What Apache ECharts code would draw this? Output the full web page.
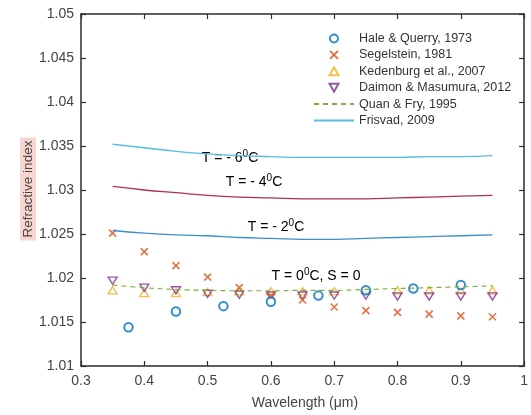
<!DOCTYPE html>
<html>
<head>
<meta charset="utf-8">
<script src="https://cdn.jsdelivr.net/npm/echarts@6/dist/echarts.min.js"></script>
<style>html,body{margin:0;padding:0;background:#fff}#c{width:531px;height:415px}</style>
</head>
<body>
<div id="c"></div>
<script>
const wl = [0.35,0.4,0.45,0.5,0.55,0.6,0.65,0.7,0.75,0.8,0.85,0.9,0.95];
const wlHale = [0.375,0.45,0.525,0.6,0.675,0.75,0.825,0.9];
const hale = [1.0144,1.0162,1.0168,1.0173,1.0180,1.0186,1.0188,1.0192];
const segelstein = [1.0251,1.0230,1.0214,1.0201,1.0189,1.0180,1.0175,1.0167,1.0163,1.0161,1.0159,1.0157,1.0156];
const kedenburg = [1.0186,1.0183,1.0183,1.0184,1.0185,1.0185,1.0185,1.0185,1.0186,1.0186,1.0186,1.0186,1.0186];
const daimon = [1.0197,1.0189,1.0186,1.0182,1.0181,1.0180,1.0180,1.0180,1.0180,1.0179,1.0179,1.0179,1.0179];
const quanFry = [1.0192,1.0189,1.0187,1.0186,1.01855,1.01855,1.0186,1.0186,1.0187,1.0188,1.0189,1.0190,1.0191];
const frisvadM6 = [1.0352,1.0348,1.0344,1.0341,1.0339,1.0338,1.0337,1.0337,1.0337,1.0337,1.0338,1.0338,1.0339];
const frisvadM4 = [1.0304,1.0300,1.0297,1.0294,1.0292,1.0291,1.0290,1.0290,1.0290,1.0291,1.0292,1.0293,1.0294];
const frisvadM2 = [1.0254,1.0251,1.0249,1.0248,1.0246,1.0245,1.0244,1.0244,1.0245,1.0246,1.0247,1.0248,1.0249];
const names = ['Hale & Querry, 1973','Segelstein, 1981','Kedenburg et al., 2007','Daimon & Masumura, 2012','Quan & Fry, 1995','Frisvad, 2009'];
const curveLabels = ['T = - 6','T = - 4','T = - 2','T = 0'];

const pair = (xs, ys) => xs.map((x, i) => [x, ys[i]]);
const axisCol = '#2b2b2b';
const font = 'Liberation Sans, Arial, sans-serif';

const chart = echarts.init(document.getElementById('c'));
const fmtY = v => { let s = v.toFixed(3); s = s.replace(/0+$/,'').replace(/\.$/,''); return s; };
const fmtX = v => { let s = v.toFixed(1); if (s === '1.0') s = '1'; return s; };
const baseX = {type:'value', min:0.3, max:1, interval:0.1,
  axisLine:{show:true, onZero:false, lineStyle:{color:axisCol, width:1.5}},
  axisTick:{show:true, inside:true, length:5, lineStyle:{color:axisCol, width:1.2}},
  splitLine:{show:false}};
const baseY = {type:'value', min:1.01, max:1.05, interval:0.005,
  axisLine:{show:true, onZero:false, lineStyle:{color:axisCol, width:1.5}},
  axisTick:{show:true, inside:true, length:5, lineStyle:{color:axisCol, width:1.2}},
  splitLine:{show:false}};
const rich = {
  a:{fontSize:14, fontFamily:font, color:'#222'},
  s:{fontSize:10, fontFamily:font, color:'#222', padding:[0,0,7,0]}
};
function tLabel(txt, tail, x, y) {
  return {type:'text', x:x, y:y, style:{text:'{a|'+txt+'}{s|0}{a|'+tail+'}', rich:rich, align:'center', verticalAlign:'middle'}};
}
const upTri = 'path://M5,0L10,9L0,9Z';
const invTri = 'path://M0,0L10,0L5,9Z';
const clear = 'rgba(255,255,255,0)';

chart.setOption({
  animation:false,
  backgroundColor:'#fff',
  grid:{left:81, top:14, right:3, bottom:49, containLabel:false},
  xAxis:[
    Object.assign({}, baseX, {position:'bottom', axisLabel:{show:true, margin:8, color:'#444', fontSize:14, fontFamily:font, formatter:fmtX}}),
    Object.assign({}, baseX, {position:'top', axisLabel:{show:false}})
  ],
  yAxis:[
    Object.assign({}, baseY, {position:'left', axisLabel:{show:true, margin:7, color:'#444', fontSize:14, fontFamily:font, formatter:fmtY}}),
    Object.assign({}, baseY, {position:'right', axisLabel:{show:false}})
  ],
  legend:{
    orient:'vertical', left:313, top:32, padding:0, itemWidth:40, itemHeight:8, itemGap:3.4,
    data:names,
    textStyle:{fontSize:12.5, fontFamily:font, color:'#333'}
  },
  graphic:[
    {type:'text', x:28, y:189, rotation:Math.PI/2,
     style:{text:'Refractive index', fontSize:13.5, fontFamily:font, fill:'#444', align:'center', verticalAlign:'middle',
            backgroundColor:'#f9d5d2', padding:[1,3,1,3]}},
    {type:'text', x:305, y:403,
     style:{text:'Wavelength (\u03bcm)', fontSize:14, fontFamily:font, fill:'#444', align:'center', verticalAlign:'middle'}},
    tLabel(curveLabels[0], 'C', 230, 158),
    tLabel(curveLabels[1], 'C', 254, 182),
    tLabel(curveLabels[2], 'C', 276, 227),
    tLabel(curveLabels[3], 'C, S = 0', 316, 276)
  ],
  series:[
    {name:'Frisvad, 2009', type:'line', data:pair(wl, frisvadM6), symbol:'circle', showSymbol:false, smooth:true,
     lineStyle:{color:'#55bde3', width:1.3}, itemStyle:{color:'#55bde3', opacity:0}},
    {name:'Frisvad -4', type:'line', data:pair(wl, frisvadM4), symbol:'none', smooth:true,
     lineStyle:{color:'#b03050', width:1.3}},
    {name:'Frisvad -2', type:'line', data:pair(wl, frisvadM2), symbol:'none', smooth:true,
     lineStyle:{color:'#3b8ec9', width:1.3}},
    {name:'Quan & Fry, 1995', type:'line', data:pair(wl, quanFry), symbol:'circle', showSymbol:false, smooth:true,
     lineStyle:{color:'#7bb33a', width:1.2, type:[5,4]}, itemStyle:{color:'#7bb33a', opacity:0}},
    {name:'Kedenburg et al., 2007', type:'scatter', data:pair(wl, kedenburg), symbol:upTri, symbolSize:[9,8], symbolKeepAspect:true,
     itemStyle:{color:clear, borderColor:'#EDB120', borderWidth:1.4}},
    {name:'Daimon & Masumura, 2012', type:'scatter', data:pair(wl, daimon), symbol:invTri, symbolSize:[9,8], symbolKeepAspect:true,
     itemStyle:{color:clear, borderColor:'#7E2F8E', borderWidth:1.4}},
    {name:'Segelstein, 1981', type:'scatter', data:pair(wl, segelstein), symbol:'path://M0,0L10,10M0,10L10,0', symbolSize:7, symbolKeepAspect:true,
     itemStyle:{color:'#D95319', borderColor:'#D95319', borderWidth:1.6}},
    {name:'Hale & Querry, 1973', type:'scatter', data:pair(wlHale, hale), symbol:'emptyCircle', symbolSize:8.5,
     itemStyle:{color:'#0072BD', borderWidth:1.4}}
  ]
});
</script>
</body>
</html>
